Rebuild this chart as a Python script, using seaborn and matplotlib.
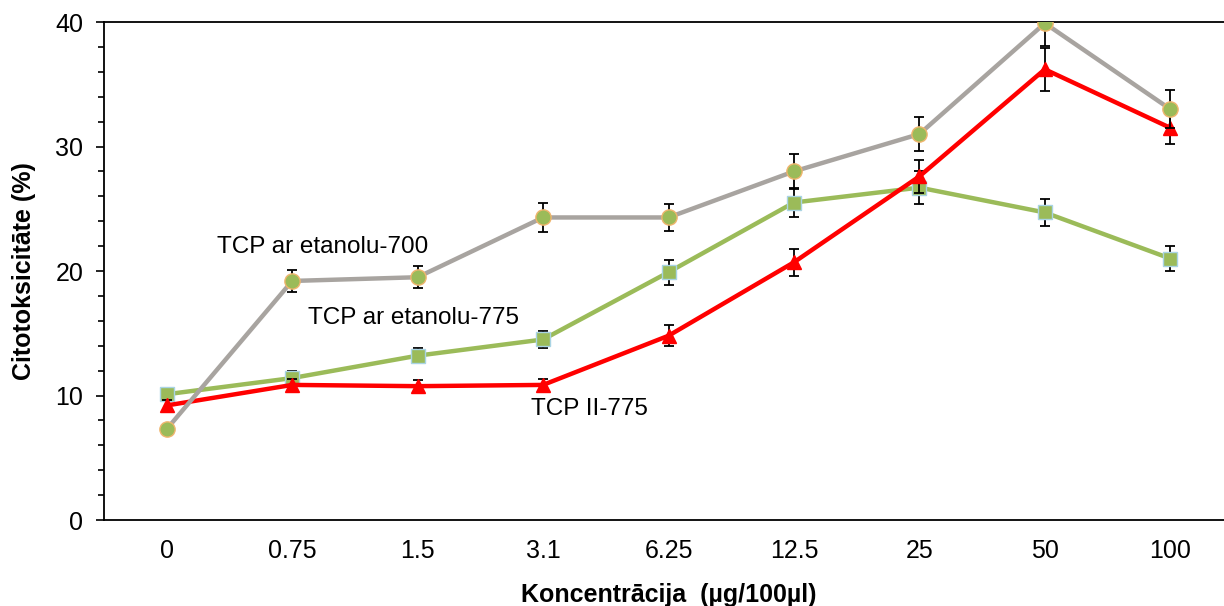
import numpy as np
import pandas as pd
import matplotlib
matplotlib.use("Agg")
import matplotlib.pyplot as plt
import seaborn as sns
from matplotlib.ticker import MultipleLocator, FixedLocator, NullFormatter

categories = ["0", "0.75", "1.5", "3.1", "6.25", "12.5", "25", "50", "100"]
etanolu_700 = [7.3, 19.2, 19.5, 24.3, 24.3, 28.0, 31.0, 39.9, 33.0]
etanolu_700_err = [0.2, 0.9, 0.9, 1.2, 1.1, 1.4, 1.4, 1.8, 1.5]
etanolu_775 = [10.1, 11.4, 13.2, 14.5, 19.9, 25.5, 26.7, 24.7, 21.0]
etanolu_775_err = [0.4, 0.6, 0.6, 0.7, 1.0, 1.2, 1.3, 1.1, 1.0]
tcp_ii_775 = [9.2, 10.85, 10.75, 10.85, 14.8, 20.7, 27.6, 36.2, 31.5]
tcp_ii_775_err = [0.4, 0.5, 0.5, 0.5, 0.85, 1.1, 1.3, 1.75, 1.3]
series_names = ["TCP ar etanolu-775", "TCP II-775", "TCP ar etanolu-700"]

sns.set_style("white")
plt.rcParams['font.family'] = ['Liberation Sans', 'DejaVu Sans']
plt.rcParams['text.color'] = 'black'
plt.rcParams['axes.labelcolor'] = 'black'
plt.rcParams['xtick.color'] = 'black'
plt.rcParams['ytick.color'] = 'black'

fig = plt.figure(figsize=(12.24, 6.06), dpi=100)
ax = fig.add_axes([104/1224, 86/606, 1129/1224, 498/606])

pos = np.arange(len(categories))
df = pd.DataFrame({
    "pos": np.tile(pos, 3),
    "val": etanolu_775 + tcp_ii_775 + etanolu_700,
    "err": etanolu_775_err + tcp_ii_775_err + etanolu_700_err,
    "series": np.repeat(series_names, len(categories)),
})

styles = {
    "TCP ar etanolu-775": dict(color="#9BBB59", marker="s", mfc="#9BBB59", mec="#A9D4E4", ms=10),
    "TCP II-775": dict(color="#FF0000", marker="^", mfc="#FF0000", mec="#FF0000", ms=10.5),
    "TCP ar etanolu-700": dict(color="#A8A4A0", marker="o", mfc="#9BBB59", mec="#F0B56E", ms=11),
}

for i, name in enumerate(series_names):
    sub = df[df.series == name]
    st = styles[name]
    z = 3 + i * 3
    ax.errorbar(sub.pos, sub.val, yerr=sub.err, fmt="none", ecolor="black",
                elinewidth=1.3, capsize=3.8, capthick=1.3, zorder=z - 1)
    sns.lineplot(data=sub, x="pos", y="val", ax=ax, color=st["color"], lw=3.2,
                 marker=st["marker"], markersize=st["ms"], markerfacecolor=st["mfc"],
                 markeredgecolor=st["mec"], markeredgewidth=1.0, zorder=z, legend=False)

ax.set_xlim(-0.5, 8.5)
ax.set_ylim(0, 40)
ax.yaxis.set_major_locator(MultipleLocator(10))
ax.yaxis.set_minor_locator(MultipleLocator(2))
ax.set_xticks(pos)
ax.set_xticklabels(categories)
ax.xaxis.set_minor_locator(FixedLocator(np.arange(-0.5, 9, 1)))
ax.xaxis.set_minor_formatter(NullFormatter())
ax.tick_params(axis="x", which="major", length=0, pad=14, labelsize=18)
ax.tick_params(axis="x", which="minor", length=5, width=1.2, direction="out")
ax.tick_params(axis="y", which="major", length=6, width=1.2, direction="out", labelsize=18, left=True, pad=9)
ax.tick_params(axis="y", which="minor", length=4, width=1.2, direction="out", left=True)

for s in ["left", "bottom", "top", "right"]:
    ax.spines[s].set_visible(True)
    ax.spines[s].set_color("black")
    ax.spines[s].set_linewidth(1.3)

ax.set_xlabel("Koncentrācija  (µg/100µl)", fontsize=18, fontweight="bold", labelpad=14)
ax.set_ylabel("Citotoksicitāte (%)", fontsize=18, fontweight="bold", labelpad=14)

ax.text(0.4, 21.9, "TCP ar etanolu-700", fontsize=17.5, va="center", ha="left")
ax.text(1.13, 16.2, "TCP ar etanolu-775", fontsize=17.5, va="center", ha="left")
ax.text(2.9, 8.9, "TCP II-775", fontsize=17.5, va="center", ha="left")

fig.savefig("out.png", dpi=100)
